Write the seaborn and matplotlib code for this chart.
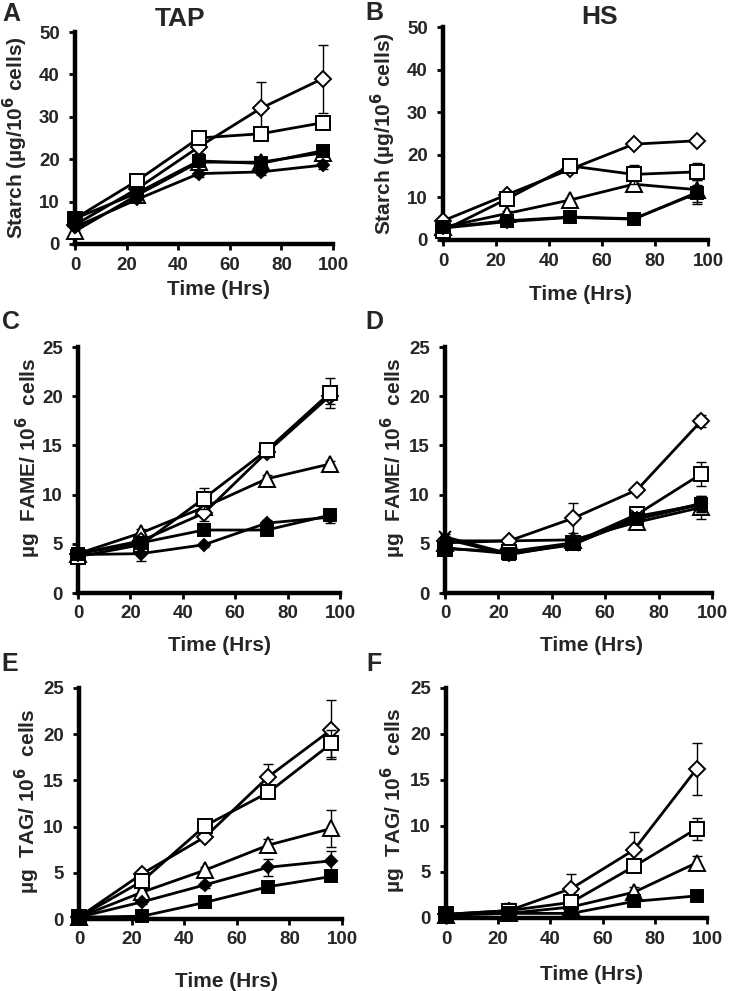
import numpy as np
import pandas as pd
import matplotlib
matplotlib.use("Agg")
import matplotlib.pyplot as plt
import seaborn as sns

sns.set_style("ticks")
plt.rcParams['font.family'] = ['Liberation Sans', 'DejaVu Sans']
plt.rcParams['font.weight'] = 'bold'
plt.rcParams['axes.labelweight'] = 'bold'
plt.rcParams['mathtext.default'] = 'bf'

time_hrs = [0, 24, 48, 72, 96]

# Panel A: Starch, TAP
A_open_diamond = [4.5, 13.0, 22.9, 32.0, 39.0]
A_open_diamond_err = [0.5, 1.0, 1.5, 6.3, 8.0]
A_open_square = [6.0, 14.9, 25.0, 26.0, 28.6]
A_open_square_err = [0.5, 1.2, 1.5, 1.0, 1.0]
A_open_triangle = [3.0, 11.5, 19.3, 19.3, 21.5]
A_open_triangle_err = [0.3, 0.5, 1.0, 0.8, 1.0]
A_filled_square = [6.0, 12.0, 19.6, 19.0, 22.0]
A_filled_square_err = [0.5, 0.5, 1.0, 1.0, 1.0]
A_filled_diamond = [4.0, 10.5, 16.6, 17.0, 18.6]
A_filled_diamond_err = [0.3, 0.5, 0.8, 0.8, 1.0]

# Panel B: Starch, HS
B_open_diamond = [4.5, 10.6, 16.6, 22.5, 23.3]
B_open_diamond_err = [0.3, 0.5, 0.5, 0.5, 0.5]
B_open_square = [2.2, 9.6, 17.4, 15.4, 16.0]
B_open_square_err = [0.3, 0.5, 0.5, 2.3, 2.0]
B_open_triangle = [3.0, 6.2, 9.4, 13.1, 11.8]
B_open_triangle_err = [0.3, 0.5, 0.5, 0.8, 0.8]
B_filled_square = [3.0, 4.5, 5.4, 5.0, 11.0]
B_filled_square_err = [0.3, 0.5, 0.8, 0.5, 2.0]
B_filled_diamond = [2.8, 4.3, 5.3, 4.9, 11.2]
B_filled_diamond_err = [0.3, 0.5, 0.5, 0.5, 2.8]

# Panel C: FAME, TAP
C_open_diamond = [4.0, 5.3, 8.1, 14.3, 20.0]
C_open_diamond_err = [0.2, 0.3, 0.8, 0.5, 0.8]
C_open_square = [3.7, 4.9, 9.6, 14.5, 20.3]
C_open_square_err = [0.3, 0.5, 1.1, 0.6, 1.5]
C_open_triangle = [4.0, 6.1, 8.7, 11.6, 13.1]
C_open_triangle_err = [0.2, 0.4, 0.5, 0.4, 0.3]
C_filled_square = [4.0, 5.1, 6.4, 6.4, 7.9]
C_filled_square_err = [0.2, 0.3, 0.3, 0.3, 0.4]
C_filled_diamond = [3.9, 4.0, 4.9, 7.1, 7.7]
C_filled_diamond_err = [0.2, 0.7, 0.2, 0.3, 0.6]

# Panel D: FAME, HS
D_open_diamond = [5.3, 5.3, 7.6, 10.5, 17.5]
D_open_diamond_err = [0.3, 0.3, 1.5, 0.3, 0.6]
D_open_square = [4.5, 4.2, 5.1, 8.0, 12.1]
D_open_square_err = [0.3, 0.3, 0.4, 0.5, 1.2]
D_open_triangle = [5.1, 5.3, 5.4, 7.2, 8.7]
D_open_triangle_err = [0.3, 0.3, 0.4, 0.4, 1.2]
D_filled_square = [4.6, 4.0, 5.0, 7.5, 9.0]
D_filled_square_err = [0.3, 0.3, 0.3, 0.3, 0.8]
D_filled_diamond = [5.5, 3.9, 5.0, 7.6, 9.1]
D_filled_diamond_err = [0.3, 0.3, 0.3, 0.3, 0.8]
D_cross = [5.7, 4.0, 4.9, 7.8, 9.0]
D_cross_err = [0.3, 0.3, 0.3, 0.3, 0.8]

# Panel E: TAG, TAP
E_open_diamond = [0.2, 4.9, 8.9, 15.4, 20.5]
E_open_diamond_err = [0.1, 0.3, 0.4, 1.4, 3.2]
E_open_square = [0.2, 4.1, 10.1, 13.7, 19.0]
E_open_square_err = [0.1, 0.3, 0.4, 0.5, 1.5]
E_open_triangle = [0.2, 2.9, 5.3, 8.0, 9.8]
E_open_triangle_err = [0.1, 0.3, 0.3, 0.7, 2.0]
E_filled_square = [0.2, 0.3, 1.8, 3.5, 4.6]
E_filled_square_err = [0.1, 0.1, 0.3, 0.3, 0.3]
E_filled_diamond = [0.2, 1.85, 3.7, 5.6, 6.3]
E_filled_diamond_err = [0.1, 0.2, 0.3, 0.9, 1.1]

# Panel F: TAG, HS
F_open_diamond = [0.4, 0.8, 3.2, 7.4, 16.2]
F_open_diamond_err = [0.1, 0.2, 1.6, 2.0, 2.8]
F_open_square = [0.4, 0.8, 1.7, 5.6, 9.7]
F_open_square_err = [0.1, 0.8, 0.3, 0.4, 1.2]
F_open_triangle = [0.3, 0.5, 1.2, 2.8, 6.0]
F_open_triangle_err = [0.1, 0.2, 0.2, 0.6, 0.7]
F_filled_square = [0.4, 0.5, 0.5, 1.8, 2.4]
F_filled_square_err = [0.1, 0.1, 0.1, 0.2, 0.2]

starch_label = r"Starch (µg/10$^{\mathbf{6}}$ cells)"
fame_label = r"µg  FAME/ 10$^{\mathbf{6}}$  cells"
tag_label = r"µg  TAG/ 10$^{\mathbf{6}}$  cells"
x_label = "Time (Hrs)"

W, H = 730, 991
fig = plt.figure(figsize=(W / 100, H / 100), dpi=100)

def add_axes(left, right, y0, ytop):
    return fig.add_axes([left / W, 1 - y0 / H, (right - left) / W, (y0 - ytop) / H])

styles = {
    "open_diamond": dict(marker="D", ms=8, mfc="white"),
    "open_square": dict(marker="s", ms=10, mfc="white"),
    "open_triangle": dict(marker="^", ms=11, mfc="white"),
    "filled_square": dict(marker="s", ms=9, mfc="black"),
    "filled_diamond": dict(marker="D", ms=6.5, mfc="black"),
    "cross": dict(marker="x", ms=8, mfc="black"),
}

def draw(ax, data, ymax, ystep, ylabel, ylab_x, ylab_y, xlab_top, xlab_x):
    g = globals()
    order = ["open_triangle", "open_diamond", "open_square", "filled_diamond", "filled_square", "cross"]
    for i, name in enumerate(order):
        key = f"{data}_{name}"
        if key not in g:
            continue
        vals = g[key]
        err = g[key + "_err"]
        st = styles[name]
        z = 3 + i
        ax.errorbar(time_hrs, vals, yerr=err, fmt="none", ecolor="black",
                    elinewidth=1.0, capsize=3.5, capthick=1.0, zorder=z, clip_on=False)
        df = pd.DataFrame({"t": time_hrs, "v": vals})
        sns.lineplot(data=df, x="t", y="v", ax=ax, color="black", linewidth=2.0,
                     marker=st["marker"], markersize=st["ms"], markerfacecolor=st["mfc"],
                     markeredgecolor="black", markeredgewidth=1.4, zorder=z + 0.5,
                     clip_on=False, estimator=None, errorbar=None)
    ax.set_xlim(0, 100)
    ax.set_ylim(0, ymax)
    ax.set_xticks(range(0, 101, 20))
    ax.set_yticks(np.arange(0, ymax + 0.1, ystep))
    for s in ["top", "right"]:
        ax.spines[s].set_visible(False)
    for s in ["left", "bottom"]:
        ax.spines[s].set_linewidth(3.2)
        ax.spines[s].set_color("black")
    ax.tick_params(axis="both", width=2, length=4, color="black", labelsize=13.5)
    ax.tick_params(axis="x", pad=5)
    ax.tick_params(axis="y", pad=7)
    for lab in ax.get_xticklabels() + ax.get_yticklabels():
        lab.set_fontweight("bold")
    ax.set_ylabel(ylabel, fontsize=15, fontweight="bold")
    ax.set_xlabel(x_label, fontsize=15, fontweight="bold")
    ax.yaxis.set_label_coords(ylab_x, ylab_y)
    ax.xaxis.set_label_coords(xlab_x, xlab_top)
    ax.set_facecolor("white")

axA = add_axes(75, 333, 244, 32)
axB = add_axes(443, 708, 240, 27)
axC = add_axes(78, 340, 593, 347)
axD = add_axes(445, 712, 593, 347)
axE = add_axes(79, 342, 919, 688)
axF = add_axes(446, 707, 918, 688)

draw(axA, "A", 50, 10, starch_label, -45 / 258, 0.5, -(280 - 244) / 212, 0.555)
draw(axB, "B", 50, 10, starch_label, -45 / 265, 0.5, -(285 - 240) / 213, 0.52)
draw(axC, "C", 25, 5, fame_label, -35 / 262, 0.55, -(636 - 593) / 246, 0.54)
draw(axD, "D", 25, 5, fame_label, -37 / 267, 0.55, -(636 - 593) / 246, 0.55)
draw(axE, "E", 25, 5, tag_label, -37 / 263, 0.51, -(972 - 919) / 231, 0.56)
draw(axF, "F", 25, 5, tag_label, -38 / 261, 0.51, -(965 - 918) / 230, 0.556)

def ftext(x, y, s, size, ha="center"):
    fig.text(x / W, 1 - y / H, s, fontsize=size, fontweight="bold", ha=ha, va="center")

ftext(180, 19, "TAP", 19)
ftext(600, 17, "HS", 19)
ftext(2, 14, "A", 18, ha="left")
ftext(365, 13, "B", 18, ha="left")
ftext(2, 322, "C", 18, ha="left")
ftext(365, 322, "D", 18, ha="left")
ftext(1, 664, "E", 18, ha="left")
ftext(366, 664, "F", 18, ha="left")

fig.savefig("out.png", dpi=100, facecolor="white")
